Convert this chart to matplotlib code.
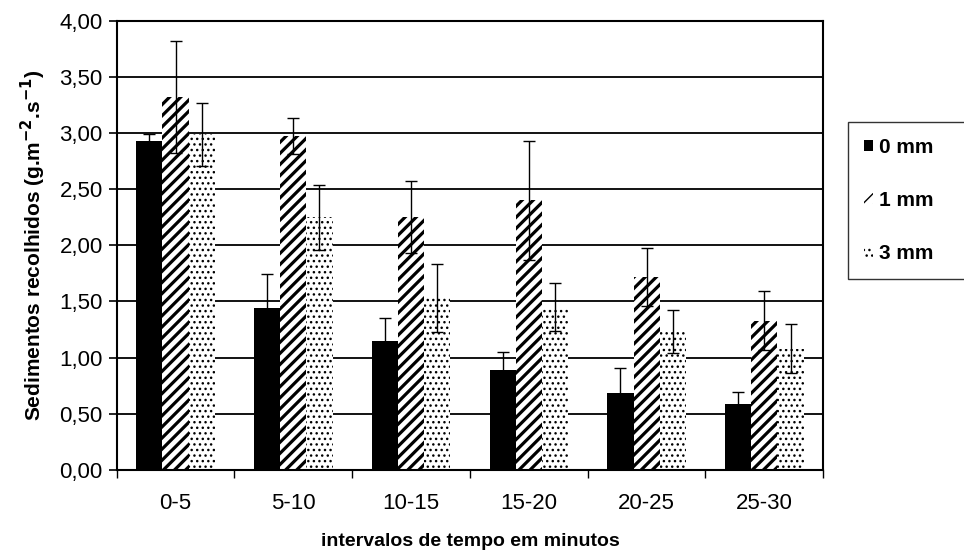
import matplotlib
matplotlib.use("Agg")
import matplotlib.pyplot as plt
import numpy as np
from matplotlib.patches import Patch

plt.rcParams["font.family"] = ["Liberation Sans", "DejaVu Sans"]

# Sediment collected per time interval and mulch thickness
categories = ["0-5", "5-10", "10-15", "15-20", "20-25", "25-30"]
labels = ["0 mm", "1 mm", "3 mm"]
mean_0mm = [2.93, 1.44, 1.15, 0.89, 0.68, 0.59]
mean_1mm = [3.32, 2.97, 2.25, 2.40, 1.72, 1.33]
mean_3mm = [2.99, 2.25, 1.53, 1.45, 1.23, 1.08]
err_0mm = [0.06, 0.30, 0.20, 0.16, 0.23, 0.10]
err_1mm = [0.50, 0.16, 0.32, 0.53, 0.26, 0.26]
err_3mm = [0.28, 0.29, 0.30, 0.21, 0.19, 0.22]
yticks = [0.0, 0.5, 1.0, 1.5, 2.0, 2.5, 3.0, 3.5, 4.0]
ytick_labels = ["0,00", "0,50", "1,00", "1,50", "2,00", "2,50", "3,00", "3,50", "4,00"]

fig = plt.figure(figsize=(9.64, 5.6), dpi=100)
ax = fig.add_axes([0.121, 0.161, 0.733, 0.802])

x = np.arange(len(categories))
w = 0.222

ax.set_axisbelow(True)
ax.yaxis.grid(True, color="black", linewidth=1.3)

series = [
    (mean_0mm, err_0mm, dict(color="black", hatch=None), 1.0),
    (mean_1mm, err_1mm, dict(facecolor="white", edgecolor="black", hatch="///"), 2.3),
    (mean_3mm, err_3mm, dict(facecolor="white", edgecolor="black", hatch="..."), 1.0),
]
handles = []
for i, (vals, errs, style, hlw) in enumerate(series):
    pos = x + (i - 1) * w
    bars = ax.bar(pos, vals, width=w, linewidth=0, zorder=2, **style)
    for b in bars:
        if hasattr(b, "set_hatch_linewidth"):
            b.set_hatch_linewidth(hlw)
    ax.errorbar(pos, vals, yerr=errs, fmt="none", ecolor="black",
                elinewidth=1.0, capsize=4, capthick=1.0, zorder=3)
    hp = Patch(label=labels[i], linewidth=0, **style)
    if hasattr(hp, "set_hatch_linewidth"):
        hp.set_hatch_linewidth(hlw)
    handles.append(hp)

ax.set_xlim(-0.5, len(categories) - 0.5)
ax.set_ylim(0, 4.0)
ax.set_yticks(yticks)
ax.set_yticklabels(ytick_labels, fontsize=16)
ax.tick_params(axis="y", direction="out", length=6, width=1.2, pad=4)

# category labels at centers, tick marks at group boundaries
ax.set_xticks(x)
ax.set_xticklabels(categories, fontsize=16)
ax.tick_params(axis="x", which="major", length=0, pad=17)
ax.set_xticks(np.arange(-0.5, len(categories)), minor=True)
ax.tick_params(axis="x", which="minor", direction="out", length=6, width=1.0)

for s in ax.spines.values():
    s.set_linewidth(1.5)
    s.set_color("black")

ax.set_ylabel("Sedimentos recolhidos (g.m$^{\\mathbf{-2}}$.s$^{\\mathbf{-1}}$)",
              fontsize=15, fontweight="bold", labelpad=8)
ax.set_xlabel("intervalos de tempo em minutos", fontsize=14,
              fontweight="bold", labelpad=13)

leg = fig.legend(handles=handles, loc="upper left",
                 bbox_to_anchor=(0.88, 0.5, 0.2, 0.282), mode="expand",
                 borderaxespad=0,
                 frameon=True, fancybox=False, edgecolor="black",
                 handlelength=0.45, handleheight=0.45, handletextpad=0.25,
                 labelspacing=1.65, borderpad=0.75,
                 prop=dict(size=15, weight="bold"))
leg.get_frame().set_linewidth(1.0)

fig.savefig("out.png", dpi=100)
